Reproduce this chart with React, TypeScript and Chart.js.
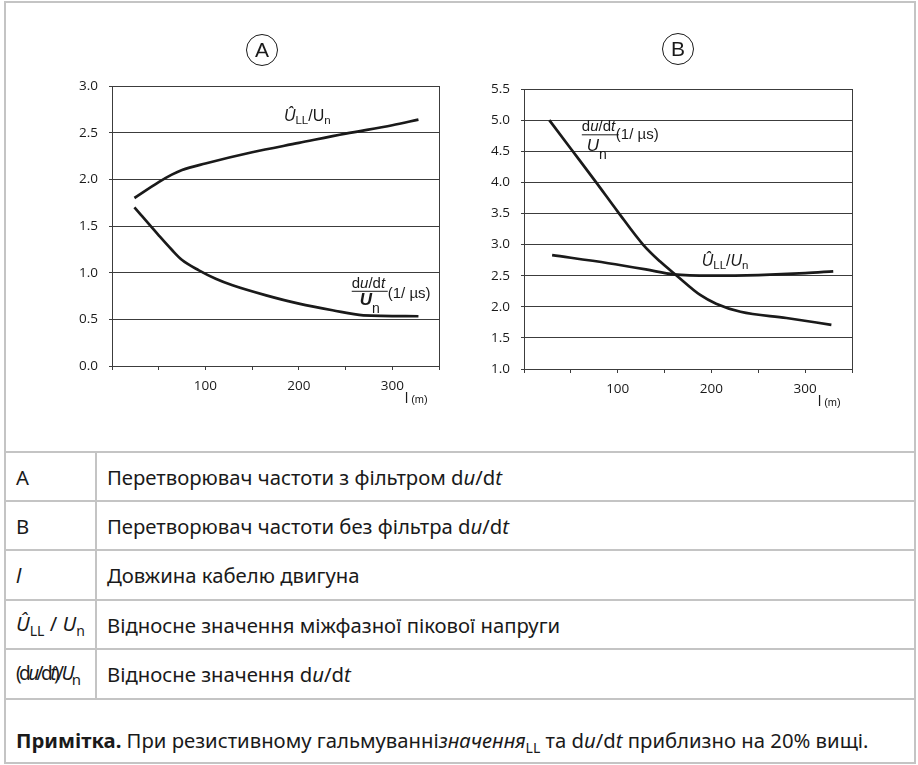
import React, { useEffect, useRef } from "react";
import { Chart, registerables } from "chart.js";
Chart.register(...registerables);

// ---------- data ----------
const lengthMin = 0;
const lengthMax = 350;
const lengthStep = 50;
const lengthLabels = [100, 200, 300];

// Chart A: converter with du/dt filter
const aYMin = 0;
const aYMax = 3.0;
const aPeakLen = [24, 50, 64, 75, 100, 150, 200, 250, 300, 328];
const aPeakVal = [1.8, 1.97, 2.05, 2.1, 2.17, 2.29, 2.39, 2.49, 2.58, 2.64];
const aSlopeLen = [24, 50, 64, 75, 93, 111, 129, 165, 200, 236, 269, 328];
const aSlopeVal = [1.7, 1.4, 1.245, 1.135, 1.025, 0.935, 0.865, 0.757, 0.668, 0.597, 0.543, 0.533];

// Chart B: converter without du/dt filter
const bYMin = 1.0;
const bYMax = 5.5;
const bSlopeLen = [27, 50, 77, 100, 127, 145, 163, 188, 205, 231, 280, 328];
const bSlopeVal = [5.0, 4.54, 4.0, 3.53, 3.0, 2.73, 2.5, 2.19, 2.05, 1.92, 1.82, 1.71];
const bPeakLen = [30, 90, 130, 160, 200, 250, 300, 330];
const bPeakVal = [2.83, 2.7, 2.6, 2.52, 2.5, 2.51, 2.54, 2.57];

// ---------- styling ----------
const INK = "#1a1a1a";
const GRID = "#3c3c3c";
const FRAME = "#c4c4c4";
const TICK_FONT = "'Open Sans', 'Noto Sans', sans-serif";
const ANN_FONT = "'Liberation Sans', Arial, sans-serif";

type Seg = { t: string; f?: string; size: number; dy?: number };

function drawSegs(ctx: CanvasRenderingContext2D, x: number, y: number, segs: Seg[]) {
  let cx = x;
  for (const s of segs) {
    ctx.font = `${s.f ?? ""} ${s.size}px ${ANN_FONT}`;
    ctx.fillText(s.t, cx, y + (s.dy ?? 0));
    cx += ctx.measureText(s.t).width;
  }
  return cx - x;
}

const dudtSegs: Seg[] = [
  { t: "d", size: 15 },
  { t: "u", f: "italic", size: 15 },
  { t: "/d", size: 15 },
  { t: "t", f: "italic", size: 15 },
];
const perMicroSegs: Seg[] = [{ t: "(1/ \u00b5s)", size: 15 }];

function peakSegs(italicU: boolean): Seg[] {
  return [
    { t: "\u00db", f: "italic", size: 16 },
    { t: "LL", size: 11.5, dy: 3 },
    { t: "/", size: 16 },
    { t: "U", f: italicU ? "italic" : "", size: 16 },
    { t: "n", size: 11.5, dy: 3 },
  ];
}

type Ann = {
  letter: string;
  circle: { x: number; y: number };
  peak: { x: number; y: number; italicU: boolean };
  slope: {
    x: number;
    y: number;
    barW: number;
    den: { dx: number; dy: number; f: string };
    unit: { dx: number; dy: number };
  };
};

const annotationPlugin = {
  id: "annotations",
  afterDatasetsDraw(chart: any, _args: any, opts: Ann) {
    const ctx: CanvasRenderingContext2D = chart.ctx;
    const xs = chart.scales.x;
    const ys = chart.scales.y;
    const area = chart.chartArea;
    ctx.save();
    ctx.fillStyle = INK;
    ctx.strokeStyle = INK;
    ctx.textBaseline = "alphabetic";
    ctx.textAlign = "left";

    // circled letter
    ctx.lineWidth = 1;
    ctx.beginPath();
    ctx.arc(opts.circle.x, opts.circle.y, 15.5, 0, Math.PI * 2);
    ctx.stroke();
    ctx.font = `21px ${ANN_FONT}`;
    ctx.textAlign = "center";
    ctx.textBaseline = "middle";
    ctx.fillText(opts.letter, opts.circle.x, opts.circle.y + 1);
    ctx.textAlign = "left";
    ctx.textBaseline = "alphabetic";

    // peak voltage label
    const px = xs.getPixelForValue(opts.peak.x);
    const py = ys.getPixelForValue(opts.peak.y);
    drawSegs(ctx, px, py, peakSegs(opts.peak.italicU));

    // du/dt label (fraction)
    const sx = xs.getPixelForValue(opts.slope.x);
    const sy = ys.getPixelForValue(opts.slope.y);
    drawSegs(ctx, sx, sy, dudtSegs);
    ctx.lineWidth = 1;
    ctx.beginPath();
    ctx.moveTo(sx, sy + 3.5);
    ctx.lineTo(sx + opts.slope.barW, sy + 3.5);
    ctx.stroke();
    drawSegs(ctx, sx + opts.slope.den.dx, sy + opts.slope.den.dy, [
      { t: "U", f: opts.slope.den.f, size: 17 },
      { t: "n", size: 14, dy: 8 },
    ]);
    drawSegs(ctx, sx + opts.slope.unit.dx, sy + opts.slope.unit.dy, perMicroSegs);

    // axis unit label
    drawSegs(ctx, area.right - 34, area.bottom + 37, [
      { t: "l", size: 14 },
      { t: " (m)", size: 11 },
    ]);
    ctx.restore();
  },
};

function makeConfig(
  peakLen: number[],
  peakVal: number[],
  slopeLen: number[],
  slopeVal: number[],
  yMin: number,
  yMax: number,
  padding: { left: number; right: number; top: number; bottom: number },
  ann: Ann
): any {
  const lineStyle = {
    borderColor: INK,
    backgroundColor: INK,
    borderWidth: 2.7,
    pointRadius: 0,
    fill: false,
    cubicInterpolationMode: "monotone",
  };
  return {
    type: "line",
    data: {
      datasets: [
        { label: "peak", data: peakLen.map((x, i) => ({ x, y: peakVal[i] })), ...lineStyle },
        { label: "dudt", data: slopeLen.map((x, i) => ({ x, y: slopeVal[i] })), ...lineStyle },
      ],
    },
    options: {
      animation: false,
      responsive: false,
      devicePixelRatio: 1,
      layout: { padding },
      plugins: {
        legend: { display: false },
        tooltip: { enabled: false },
        annotations: ann,
      },
      scales: {
        x: {
          type: "linear",
          min: lengthMin,
          max: lengthMax,
          afterFit: (s: any) => {
            s.height = 40;
          },
          border: { display: true, color: GRID, width: 1 },
          grid: {
            color: (c: any) => (c.tick && c.tick.value === lengthMax ? GRID : "rgba(0,0,0,0)"),
            tickColor: GRID,
            tickLength: 4,
            lineWidth: 1,
          },
          ticks: {
            stepSize: lengthStep,
            autoSkip: false,
            maxRotation: 0,
            padding: 8,
            color: INK,
            font: { family: TICK_FONT, size: 13.5 },
            callback: (v: number) => (lengthLabels.includes(v) ? String(v) : ""),
          },
        },
        y: {
          type: "linear",
          min: yMin,
          max: yMax,
          afterFit: (s: any) => {
            s.width = 50;
          },
          border: { display: true, color: GRID, width: 1 },
          grid: { color: GRID, tickColor: GRID, tickLength: 3, lineWidth: 1 },
          ticks: {
            stepSize: 0.5,
            padding: 11,
            color: INK,
            font: { family: TICK_FONT, size: 13.5 },
            callback: (v: number) => v.toFixed(1),
          },
        },
      },
    },
    plugins: [annotationPlugin],
  };
}

function ChartCanvas({ config, left }: { config: () => any; left: number }) {
  const ref = useRef<HTMLCanvasElement>(null);
  useEffect(() => {
    const chart = new Chart(ref.current!, config());
    return () => chart.destroy();
  }, []);
  return (
    <canvas
      ref={ref}
      width={459}
      height={450}
      style={{ position: "absolute", left, top: 0, width: 459, height: 450 }}
    />
  );
}

const TEXT_FONT = "'Noto Sans', 'Open Sans', sans-serif";
const TEXT_SIZE = 20.3;
const rowLines = [451, 500, 549, 599, 648, 698];

const rows: { key: React.ReactNode; text: React.ReactNode; keyStyle?: React.CSSProperties }[] = [
  { key: "A", text: <>Перетворювач частоти з фільтром d<i>u</i>/d<i>t</i></> },
  { key: "B", text: <>Перетворювач частоти без фільтра d<i>u</i>/d<i>t</i></> },
  { key: <i>l</i>, text: <>Довжина кабелю двигуна</> },
  {
    key: (
      <>
        <i>Û</i>
        <sub style={{ fontSize: 14 }}>LL</sub> / <i>U</i>
        <sub style={{ fontSize: 14 }}>n</sub>
      </>
    ),
    text: <>Відносне значення міжфазної пікової напруги</>,
  },
  {
    key: (
      <>
        (d<i>u</i>/d<i>t</i>)/<i>U</i>
        <sub style={{ fontSize: 15 }}>n</sub>
      </>
    ),
    keyStyle: { letterSpacing: -2.6, fontSize: 19 },
    text: (
      <>
        Відносне значення d<i>u</i>/d<i>t</i>
      </>
    ),
  },
];

export default function App() {
  const cfgA = () =>
    makeConfig(aPeakLen, aPeakVal, aSlopeLen, aSlopeVal, aYMin, aYMax, { left: 62, right: 20, top: 86, bottom: 44 }, {
      letter: "A",
      circle: { x: 262, y: 50 },
      peak: { x: 184, y: 2.626, italicU: false },
      slope: { x: 256.6, y: 0.838, barW: 36, den: { dx: 8, dy: 17.5, f: "bold italic" }, unit: { dx: 36, dy: 10 } },
    });
  const cfgB = () =>
    makeConfig(bPeakLen, bPeakVal, bSlopeLen, bSlopeVal, bYMin, bYMax, { left: 15, right: 66, top: 89, bottom: 41 }, {
      letter: "B",
      circle: { x: 219, y: 49 },
      peak: { x: 189.7, y: 2.657, italicU: true },
      slope: { x: 61.7, y: 4.82, barW: 37, den: { dx: 5, dy: 20, f: "italic" }, unit: { dx: 34, dy: 8 } },
    });

  return (
    <div
      style={{
        position: "absolute",
        left: 0,
        top: 0,
        width: 918,
        height: 765,
        background: "#fff",
        overflow: "hidden",
        fontFamily: TEXT_FONT,
        color: INK,
      }}
    >
      {/* outer frame */}
      <div
        style={{
          position: "absolute",
          left: 4,
          top: 1,
          width: 912,
          height: 763,
          boxSizing: "border-box",
          border: `2px solid ${FRAME}`,
        }}
      />
      {rowLines.map((y) => (
        <div key={y} style={{ position: "absolute", left: 4, top: y, width: 912, height: 2, background: FRAME }} />
      ))}
      <div
        style={{
          position: "absolute",
          left: 95,
          top: rowLines[0],
          width: 2,
          height: rowLines[rowLines.length - 1] - rowLines[0],
          background: FRAME,
        }}
      />
      {rows.map((r, i) => (
        <React.Fragment key={i}>
          <div
            style={{
              position: "absolute",
              left: 16,
              top: rowLines[i] + 2,
              height: rowLines[i + 1] - rowLines[i] - 2,
              display: "flex",
              alignItems: "center",
              fontSize: TEXT_SIZE,
              whiteSpace: "nowrap",
              ...(r.keyStyle || {}),
            }}
          >
            <span>{r.key}</span>
          </div>
          <div
            style={{
              position: "absolute",
              left: 107,
              top: rowLines[i] + 2,
              height: rowLines[i + 1] - rowLines[i] - 2,
              display: "flex",
              alignItems: "center",
              fontSize: TEXT_SIZE,
              whiteSpace: "nowrap",
            }}
          >
            <span>{r.text}</span>
          </div>
        </React.Fragment>
      ))}
      <div
        style={{
          position: "absolute",
          left: 16,
          top: 700,
          height: 63,
          display: "flex",
          alignItems: "center",
          fontSize: TEXT_SIZE,
          whiteSpace: "nowrap",
          paddingTop: 20,
          boxSizing: "border-box",
        }}
      >
        <span>
          <b>Примітка.</b> При резистивному гальмуванні<i>значення</i>
          <sub style={{ fontSize: 14 }}>LL</sub> та d<i>u</i>/d<i>t</i> приблизно на 20% вищі.
        </span>
      </div>
      <ChartCanvas config={cfgA} left={0} />
      <ChartCanvas config={cfgB} left={459} />
    </div>
  );
}
